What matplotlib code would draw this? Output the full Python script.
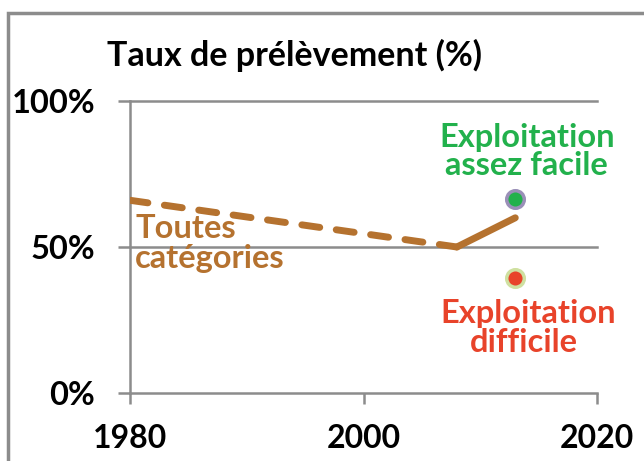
import matplotlib
matplotlib.use("Agg")
import matplotlib.pyplot as plt
from matplotlib.patches import Rectangle

plt.rcParams['font.family'] = ['Lato', 'DejaVu Sans']

years_dashed = [1980, 2008]
rate_dashed = [66, 50]
years_solid = [2008, 2013]
rate_solid = [50, 60]
point_year = 2013
easy_rate = 66.5
hard_rate = 39.5
x_ticks = [1980, 2000, 2020]
y_ticks = [0, 50, 100]
y_labels = ['0%', '50%', '100%']

brown = '#b5722f'
green = '#22b14c'
red = '#e8432a'
grid = '#8c8c8c'

fig = plt.figure(figsize=(6.44, 4.61), dpi=100)
W, H = 644, 461
ax = fig.add_axes([130 / W, 1 - 393 / H, (597 - 130) / W, (393 - 101) / H])
ax.set_xlim(1980, 2020)
ax.set_ylim(0, 100)

for s in ['top', 'right']:
    ax.spines[s].set_visible(False)
for s in ['left', 'bottom']:
    ax.spines[s].set_color(grid)
    ax.spines[s].set_linewidth(1.8)
for yv in [50, 100]:
    ax.axhline(yv, color=grid, lw=1.8, zorder=1, clip_on=False)

ax.set_xticks(x_ticks)
ax.set_xticklabels([str(v) for v in x_ticks])
ax.set_yticks(y_ticks)
ax.set_yticklabels(y_labels)
ax.tick_params(axis='x', direction='out', length=8, width=1.8, color=grid, pad=14,
               labelsize=23)
ax.tick_params(axis='y', direction='out', length=9, width=1.8, color=grid, pad=16,
               labelsize=23.5)
for lab in ax.get_xticklabels() + ax.get_yticklabels():
    lab.set_fontweight('bold')

ax.plot(years_dashed, rate_dashed, color=brown, lw=5, ls=(0, (2.6, 2.4)),
        solid_capstyle='round', dash_capstyle='round', zorder=3)
ax.plot(years_solid, rate_solid, color=brown, lw=5, solid_capstyle='round', zorder=3)

ax.scatter([point_year], [easy_rate], s=160, color=green, edgecolors='#9a8fb8',
           linewidths=2.5, zorder=4)
ax.scatter([point_year], [hard_rate], s=160, color=red, edgecolors='#cfe0a0',
           linewidths=2.5, zorder=4)

def px(x, y):
    return (x / W, 1 - y / H)

fs = 23.5
fig.text(*px(527, 137), 'Exploitation', color=green, fontsize=fs,
         fontweight='bold', ha='center', va='center')
fig.text(*px(526, 165), 'assez facile', color=green, fontsize=fs,
         fontweight='bold', ha='center', va='center')
fig.text(*px(528, 313), 'Exploitation', color=red, fontsize=fs,
         fontweight='bold', ha='center', va='center')
fig.text(*px(524, 342), 'difficile', color=red, fontsize=fs,
         fontweight='bold', ha='center', va='center')
fig.text(*px(135, 228), 'Toutes', color=brown, fontsize=fs,
         fontweight='bold', ha='left', va='center')
fig.text(*px(135, 258), 'catégories', color=brown, fontsize=fs,
         fontweight='bold', ha='left', va='center')

fig.text(*px(107, 55), 'Taux de prélèvement (%)', fontsize=24.5,
         fontweight='bold', ha='left', va='center')

fig.patches.append(Rectangle((8 / W, -0.1), 1.2, 1 + 0.1 - 13 / H,
                             transform=fig.transFigure, fill=False,
                             edgecolor='#8c8c8c', lw=2.5))

fig.savefig('out.png', dpi=100)
